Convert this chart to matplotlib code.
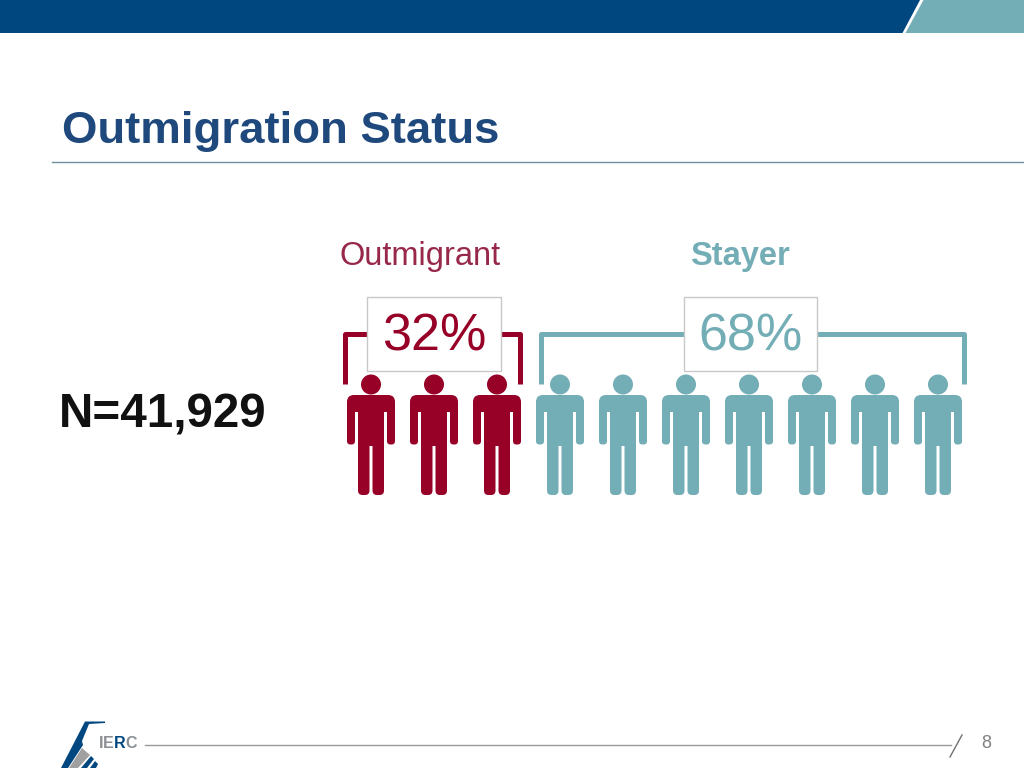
import matplotlib
matplotlib.use("Agg")
import matplotlib.pyplot as plt
from matplotlib.patches import Rectangle, Polygon, Circle, FancyBboxPatch

# Data
labels = ["Outmigrant", "Stayer"]
percents = [32, 68]
people = [3, 7]
total = "N=41,929"
title = "Outmigration Status"
page = "8"
logo_letters = ["I", "E", "R", "C"]

# Couleurs
navy = "#00477f"
teal = "#73adb5"
maroon = "#970027"
title_col = "#1f497d"
logo_grey = "#8a8f94"

plt.rcParams["font.family"] = ["Liberation Sans", "DejaVu Sans"]

fig = plt.figure(figsize=(10.24, 7.68), dpi=100)
ax = fig.add_axes([0, 0, 1, 1])
ax.set_xlim(0, 1024)
ax.set_ylim(768, 0)
ax.axis("off")


def rounded(x0, y0, x1, y1, color, r=3.5):
    ax.add_patch(FancyBboxPatch((x0 + r, y0 + r), x1 - x0 - 2 * r, y1 - y0 - 2 * r,
                                boxstyle=f"round,pad={r},rounding_size={r}",
                                fc=color, ec="none"))


def person(cx, color):
    # tete, epaules, bras, torse, jambes
    ax.add_patch(Circle((cx, 384.5), 10, fc=color, ec="none"))
    rounded(cx - 24, 395, cx + 24, 420, color, r=7)
    rounded(cx - 24, 400, cx - 16, 444.5, color, r=3.5)
    rounded(cx + 16, 400, cx + 24, 444.5, color, r=3.5)
    ax.add_patch(Rectangle((cx - 13, 400), 26, 46, fc=color, ec="none"))
    ax.add_patch(Rectangle((cx - 16, 412), 3, 33, fc="white", ec="none"))
    ax.add_patch(Rectangle((cx + 13, 412), 3, 33, fc="white", ec="none"))
    rounded(cx - 13, 436, cx - 1.5, 495, color, r=4.5)
    rounded(cx + 1.5, 436, cx + 13, 495, color, r=4.5)


def bracket(x0, x1, color):
    ax.plot([x0, x0, x1, x1], [384, 334, 334, 384], color=color, lw=3.6,
            solid_joinstyle="round", solid_capstyle="butt")


# Bandeau du haut
ax.add_patch(Rectangle((0, 0), 1024, 33, fc=navy, ec="none"))
ax.add_patch(Polygon([(923, 0), (1024, 0), (1024, 33), (905, 33)], fc=teal, ec="none"))
ax.add_patch(Polygon([(920, 0), (923.5, 0), (905.5, 33), (902.5, 33)], fc="white", ec="none"))

# Titre
ax.text(62, 132, title, fontsize=32.75, fontweight="bold", color=title_col, va="center", ha="left")
ax.plot([52, 1024], [161.5, 161.5], color="#6f8f9f", lw=1)

# Total
ax.text(59, 415, total, fontsize=34.3, fontweight="bold", color="#111111", va="center", ha="left")

# Personnages
x_start = [371, 560]
step = 63
colors = [maroon, teal]
for start, n, col in zip(x_start, people, colors):
    for i in range(n):
        person(start + i * step, col)

# Accolades et boites
bracket(345, 520, maroon)
bracket(541, 964, teal)
boxes = [(367, 501), (684, 817)]
for (x0, x1), pct, col in zip(boxes, percents, colors):
    ax.add_patch(Rectangle((x0, 296.5), x1 - x0, 74, fc="white", ec="#c8c8c8", lw=1, zorder=3))
    ax.text((x0 + x1) / 2, 337, f"{pct}%", fontsize=37.5, color=col, va="center", ha="center", zorder=4)

# Etiquettes
ax.text(420.5, 256, labels[0], fontsize=23.5, color="#97284a", va="center", ha="center")
ax.text(740, 256, labels[1], fontsize=23.5, fontweight="bold", color=teal, va="center", ha="center")

# Pied de page
ax.plot([145, 951], [745, 745], color="#999999", lw=1)
ax.plot([962, 950], [735, 757], color="#707070", lw=1)
ax.text(986.5, 744, page, fontsize=13, color="#808080", va="center", ha="center")

# Logo
ax.add_patch(Polygon([(85, 721.5), (105, 721.5), (105, 723), (89, 724), (82, 741), (83, 745),
                      (68, 768), (61, 768)], fc=navy, ec="none"))
ax.add_patch(Polygon([(82, 748), (90, 755), (78, 768), (69, 768)], fc="#a0a0a0", ec="none"))
ax.add_patch(Polygon([(91, 756), (94, 759), (87, 768), (81, 768)], fc=navy, ec="none"))
ax.add_patch(Polygon([(95, 761), (98, 764), (96, 768), (90, 768)], fc=navy, ec="none"))

# Lettres du logo, posees l'une apres l'autre
renderer = fig.canvas.get_renderer()
x_logo = 98.5
for letter, col in zip(logo_letters, [logo_grey, logo_grey, navy, logo_grey]):
    t = ax.text(x_logo, 744, letter, fontsize=11.5, fontweight="bold", color=col, va="center", ha="left")
    x_logo += t.get_window_extent(renderer).width

fig.savefig("out.png", dpi=100)
